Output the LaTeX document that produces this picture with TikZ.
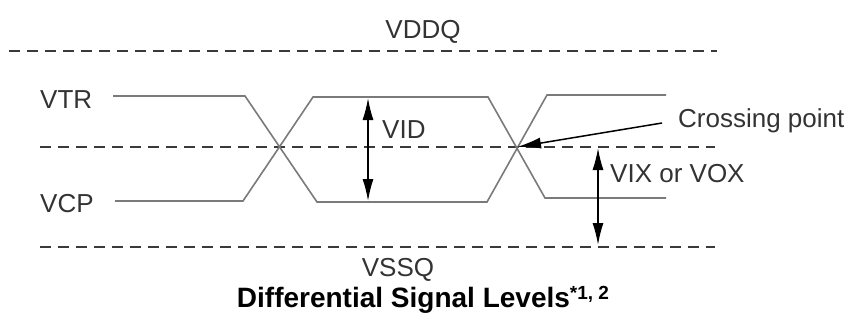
\documentclass[tikz,border=0pt]{standalone}
\usepackage{fontspec}
\setmainfont{Liberation Sans}
\usetikzlibrary{arrows.meta}
\definecolor{sigline}{HTML}{7A7A7A}
\definecolor{reflevel}{HTML}{3A3A3A}
\definecolor{labeltxt}{HTML}{333333}

\begin{document}
\begin{tikzpicture}[x=1pt,y=-1pt,
  level/.style={draw=reflevel,line width=1.8pt,dash pattern=on 11pt off 7pt},
  wave/.style={draw=sigline,line width=1.6pt,line join=miter},
  dimarrow/.style={line width=1.5pt,{Latex[length=22pt,width=11pt]}-{Latex[length=22pt,width=11pt]}},
  lbl/.style={font=\fontsize{26}{30}\selectfont,text=labeltxt,inner sep=0pt,anchor=base west}]
\useasboundingbox (0,0) rectangle (845,327);

% Reference levels
\draw[level] (9,51) -- (717,51);
\draw[level] (40,147) -- (715,147);
\draw[level] (40,247) -- (715,247);

\node[lbl,anchor=base] (vddq) at (423,38) {VDDQ};
\node[lbl,anchor=base] (vssq) at (398,276) {VSSQ};

% Differential pair
\draw[wave] (113,96) -- (245,96) -- (317,202) -- (487,202) -- (547,95) -- (666,95);
\draw[wave] (115,201) -- (243,201) -- (313,97) -- (488,97) -- (545,198) -- (666,198);

\node[lbl] (vtr) at (40,108) {VTR};
\node[lbl] (vcp) at (40,212) {VCP};

% Crossing point
\coordinate (xing) at (517,147);
\coordinate (cpstart) at (662,123);
\node[lbl] (cplbl) at (678,127) {Crossing point};
\draw[line width=1.5pt,-{Latex[length=24pt,width=11pt]}] (cpstart) -- (xing);

% VID
\coordinate (vidtop) at (368,98);
\coordinate (vidbot) at (368,201);
\draw[dimarrow] (vidtop) -- (vidbot);
\node[lbl] (vid) at (382,138) {VID};

% VIX / VOX
\coordinate (vixtop) at (598,148);
\coordinate (vixbot) at (598,245);
\draw[dimarrow] (vixtop) -- (vixbot);
\node[lbl] (vix) at (610,182) {VIX or VOX};

% Caption
\node[inner sep=0pt,anchor=base,font=\fontsize{28}{32}\selectfont\bfseries] (title) at (423,307)
  {Differential Signal Levels\raisebox{8pt}{\fontsize{19}{20}\selectfont*1, 2}};
\end{tikzpicture}
\end{document}
